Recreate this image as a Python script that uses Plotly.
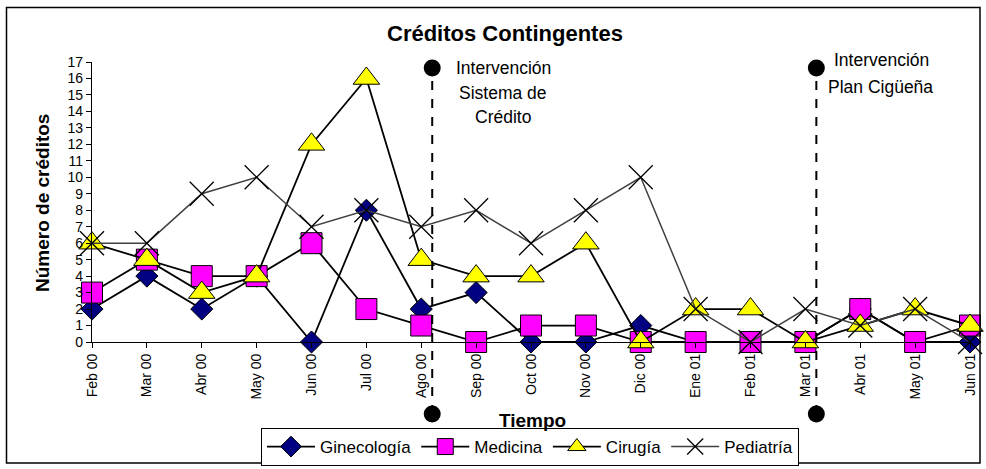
import plotly.graph_objects as go

meses = ["Feb 00", "Mar 00", "Abr 00", "May 00", "Jun 00", "Jul 00", "Ago 00", "Sep 00",
         "Oct 00", "Nov 00", "Dic 00", "Ene 01", "Feb 01", "Mar 01", "Abr 01", "May 01", "Jun 01"]
ginecologia = [2, 4, 2, 4, 0, 8, 2, 3, 0, 0, 1, 0, 0, 0, 2, 0, 0]
medicina = [3, 5, 4, 4, 6, 2, 1, 0, 1, 1, 0, 0, 0, 0, 2, 0, 1]
cirugia = [6, 5, 3, 4, 12, 16, 5, 4, 4, 6, 0, 2, 2, 0, 1, 2, 1]
pediatria = [6, 6, 9, 10, 7, 8, 7, 8, 6, 8, 10, 2, 0, 2, 1, 2, 0]
y_ticks = list(range(0, 18))

# intervention positions (between categories)
interv1_x = 6.2
interv2_x = 13.2

xs = list(range(len(meses)))
FONT = "Liberation Sans, Arial, sans-serif"

fig = go.Figure()
fig.add_trace(go.Scatter(
    x=xs, y=ginecologia, name="Ginecología", mode="lines+markers",
    line=dict(color="black", width=1.8),
    marker=dict(symbol="diamond", size=17, color="#000080", line=dict(color="black", width=1)),
    cliponaxis=False))
fig.add_trace(go.Scatter(
    x=xs, y=medicina, name="Medicina", mode="lines+markers",
    line=dict(color="black", width=1.8),
    marker=dict(symbol="square", size=21, color="#FF00FF", line=dict(color="black", width=1)),
    cliponaxis=False))
fig.add_trace(go.Scatter(
    x=xs, y=cirugia, name="Cirugía", mode="lines+markers",
    line=dict(color="black", width=1.8),
    marker=dict(symbol="triangle-up", size=23, color="#FFFF00", line=dict(color="black", width=1)),
    cliponaxis=False))
fig.add_trace(go.Scatter(
    x=xs, y=pediatria, name="Pediatría", mode="lines+markers",
    line=dict(color="#404040", width=1.5),
    marker=dict(symbol="x-thin", size=24, color="black", line=dict(color="black", width=1.3)),
    cliponaxis=False))

L, R, T, B = 92, 16, 62, 127
W, H = 986, 469
pw, ph = W - L - R, H - T - B

def px(x):
    return (x - L) / pw

def py(y):
    return (H - B - y) / ph

shapes = []
for xv in (interv1_x, interv2_x):
    xp = xv / (len(meses) - 1)
    shapes.append(dict(type="line", xref="paper", yref="paper", x0=xp, x1=xp,
                       y0=py(414), y1=py(68), line=dict(color="black", width=2, dash="dash"),
                       layer="above"))
    r = 8.5
    shapes.append(dict(type="circle", xref="paper", yref="paper",
                       x0=xp - r / pw, x1=xp + r / pw, y0=py(68) - r / ph, y1=py(68) + r / ph,
                       fillcolor="black", line=dict(color="black", width=0), layer="above"))
    shapes.append(dict(type="circle", xref="paper", yref="paper",
                       x0=xp - r / pw, x1=xp + r / pw, y0=py(414) - r / ph, y1=py(414) + r / ph,
                       fillcolor="black", line=dict(color="black", width=0), layer="above"))
# outer border
shapes.append(dict(type="rect", xref="paper", yref="paper",
                   x0=px(6.5), x1=px(980), y0=py(463), y1=py(7.5),
                   line=dict(color="black", width=1.5), fillcolor="rgba(0,0,0,0)"))

annotations = [
    dict(text="<b>Créditos Contingentes</b>", x=px(505), y=py(34), xref="paper", yref="paper",
         showarrow=False, font=dict(size=22, color="black", family=FONT), xanchor="center", yanchor="middle"),
    dict(text="<b>Número de créditos</b>", x=px(42), y=py(203), xref="paper", yref="paper",
         showarrow=False, textangle=-90, font=dict(size=19, color="black", family=FONT),
         xanchor="center", yanchor="middle"),
    dict(text="<b>Tiempo</b>", x=px(532), y=py(420), xref="paper", yref="paper",
         showarrow=False, font=dict(size=19, color="black", family=FONT), xanchor="center", yanchor="middle"),
]
for txt, xx, yy in [("Intervención", 503, 68), ("Sistema de", 503, 93), ("Crédito", 503, 117),
                    ("Intervención", 881, 60), ("Plan Cigüeña", 880, 87)]:
    annotations.append(dict(text=txt, x=px(xx), y=py(yy), xref="paper", yref="paper", showarrow=False,
                            font=dict(size=17.5, color="black", family=FONT),
                            xanchor="center", yanchor="middle"))

fig.update_layout(
    width=W, height=H,
    margin=dict(l=L, r=R, t=T, b=B, autoexpand=False),
    paper_bgcolor="white", plot_bgcolor="white",
    font=dict(family=FONT, color="black"),
    showlegend=True,
    legend=dict(orientation="h", x=px(530), y=py(447), xanchor="center", yanchor="middle",
                bordercolor="black", borderwidth=1, bgcolor="white", itemwidth=48,
                font=dict(size=17, color="black", family=FONT), itemsizing="trace"),
    shapes=shapes,
    annotations=annotations,
)
fig.update_xaxes(range=[0, len(meses) - 1], tickmode="array", tickvals=xs, ticktext=meses,
                 tickangle=-90, showgrid=False, zeroline=False, showline=True,
                 linecolor="black", linewidth=1.2, ticks="outside", ticklen=5, tickcolor="black",
                 tickfont=dict(size=14, color="black", family=FONT))
fig.update_yaxes(range=[0, 17], tickmode="array", tickvals=y_ticks, showgrid=False, zeroline=False,
                 showline=True, linecolor="black", linewidth=1.2, ticks="outside", ticklen=5,
                 tickcolor="black", tickfont=dict(size=14, color="black", family=FONT))

fig.write_html("out.html", config={"displayModeBar": False},
               post_script="document.body.style.margin='0';document.body.style.overflow='hidden';")
